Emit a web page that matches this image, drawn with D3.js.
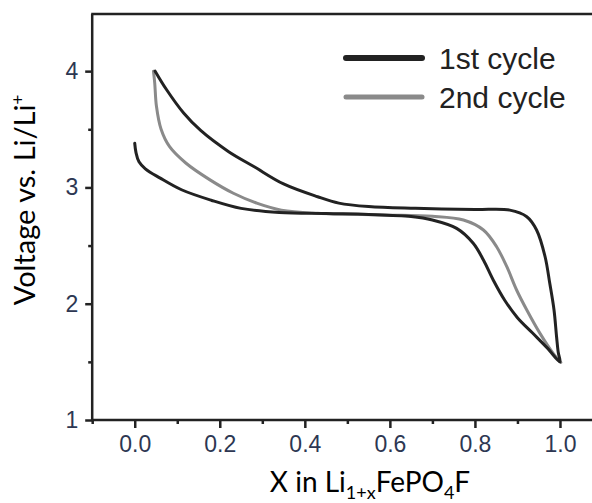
<!DOCTYPE html>
<html><head><meta charset="utf-8">
<script src="https://cdn.jsdelivr.net/npm/d3@7"></script>
<style>body{margin:0;background:#fff}svg{display:block}</style>
</head><body>
<svg id="c" width="592" height="503"></svg>
<script>
// ---- data ----
const xMajorTicks = [0.0, 0.2, 0.4, 0.6, 0.8, 1.0];
const xMinorTicks = [-0.1, 0.1, 0.3, 0.5, 0.7, 0.9, 1.1];
const yMajorTicks = [1, 2, 3, 4];
const yMinorTicks = [1.5, 2.5, 3.5];
const seriesNames = ["1st cycle", "2nd cycle"];
// 1st cycle: discharge 0 -> 1, then charge back to ~0.05
const cycle1 = [
  [0.000,3.38],[0.003,3.30],[0.010,3.22],[0.025,3.16],[0.06,3.08],[0.11,2.98],
  [0.18,2.89],[0.25,2.82],[0.34,2.785],[0.45,2.775],[0.55,2.768],[0.65,2.75],
  [0.70,2.72],[0.757,2.648],[0.796,2.52],[0.82,2.376],[0.843,2.204],[0.87,2.03],
  [0.90,1.88],[0.935,1.75],[0.97,1.62],[1.00,1.50],
  [0.996,1.58],[0.992,1.716],[0.986,1.946],[0.976,2.175],[0.965,2.404],[0.945,2.634],
  [0.922,2.748],[0.882,2.805],[0.80,2.81],[0.66,2.82],[0.55,2.835],[0.48,2.865],
  [0.43,2.92],[0.35,3.03],[0.28,3.18],[0.22,3.31],[0.155,3.49],[0.115,3.64],
  [0.075,3.84],[0.048,4.00]
];
const cycle2 = [
  [0.044,4.00],[0.047,3.90],[0.051,3.70],[0.062,3.50],[0.082,3.35],[0.12,3.21],
  [0.177,3.065],[0.232,2.95],[0.287,2.865],[0.345,2.805],[0.43,2.777],[0.585,2.763],
  [0.70,2.752],[0.773,2.72],[0.82,2.634],[0.851,2.49],[0.875,2.318],[0.898,2.118],
  [0.922,1.946],[0.953,1.745],[0.984,1.573],[1.002,1.495]
];

// ---- layout ----
const svg = d3.select("#c");
const x = d3.scaleLinear().domain([-0.1, 1.1]).range([92.2, 602.5]);
const y = d3.scaleLinear().domain([1, 4.5]).range([420, 13]);
const axisColor = "#222";
const tickTextColor = "#2d3752";

function styleAxis(g){
  g.selectAll("path.domain").remove();
  g.selectAll("line").attr("stroke", axisColor).attr("stroke-width", 2.5);
  g.selectAll("text").attr("fill", tickTextColor)
   .style("font-family", "'Liberation Sans', Arial, sans-serif").style("font-size", "23px");
}

// bottom axis
const gx = svg.append("g").attr("transform", `translate(0,${y(1)})`);
gx.append("g").call(d3.axisBottom(x).tickValues(xMinorTicks).tickSize(4).tickFormat("")).call(styleAxis);
gx.append("g").call(d3.axisBottom(x).tickValues(xMajorTicks).tickSize(8).tickPadding(8).tickFormat(d3.format(".1f"))).call(styleAxis);
gx.append("line").attr("x1", x(-0.1)).attr("x2", x(1.1)).attr("y1", 0).attr("y2", 0)
  .attr("stroke", axisColor).attr("stroke-width", 2.5);

// left axis
const gy = svg.append("g").attr("transform", `translate(${x(-0.1)},0)`);
gy.append("g").call(d3.axisLeft(y).tickValues(yMinorTicks).tickSize(4).tickFormat("")).call(styleAxis);
gy.append("g").call(d3.axisLeft(y).tickValues(yMajorTicks).tickSize(7).tickPadding(7).tickFormat(d3.format("d"))).call(styleAxis);
gy.append("line").attr("x1", 0).attr("x2", 0).attr("y1", y(1) + 1).attr("y2", y(4.5) + 1)
  .attr("stroke", axisColor).attr("stroke-width", 2.5);

// top frame line
svg.append("line").attr("x1", x(-0.1) - 1).attr("x2", x(1.1)).attr("y1", y(4.5) + 1).attr("y2", y(4.5) + 1)
  .attr("stroke", axisColor).attr("stroke-width", 2.5);

// curves
const line = d3.line().x(d => x(d[0])).y(d => y(d[1])).curve(d3.curveCatmullRom.alpha(0.5));
svg.append("path").datum(cycle2).attr("d", line).attr("fill", "none")
  .attr("stroke", "#8a8a8a").attr("stroke-width", 3).attr("stroke-linejoin", "round").attr("stroke-linecap", "round");
svg.append("path").datum(cycle1).attr("d", line).attr("fill", "none")
  .attr("stroke", "#222").attr("stroke-width", 3).attr("stroke-linejoin", "round").attr("stroke-linecap", "round");

// legend
const legend = [
  {name: seriesNames[0], color: "#222", w: 6, ly: 58},
  {name: seriesNames[1], color: "#8a8a8a", w: 5, ly: 97}
];
legend.forEach(l => {
  svg.append("line").attr("x1", 346).attr("x2", 422).attr("y1", l.ly).attr("y2", l.ly)
    .attr("stroke", l.color).attr("stroke-width", l.w).attr("stroke-linecap", "round");
  svg.append("text").attr("x", 439).attr("y", l.ly + 10.5).text(l.name)
    .attr("fill", "#222").style("font-family", "'Liberation Sans', Arial, sans-serif").style("font-size", "30px");
});

// axis titles
const titleFont = "Lato, 'Open Sans', sans-serif";
const yt = svg.append("text").attr("transform", "translate(35,200) rotate(-90)")
  .attr("text-anchor", "middle").attr("fill", "#000")
  .style("font-family", titleFont).style("font-size", "29px");
yt.append("tspan").text("Voltage vs. Li/Li");
yt.append("tspan").attr("dy", -11).style("font-size", "17px").text("+");

const xt = svg.append("text").attr("x", 370).attr("y", 492).attr("text-anchor", "middle")
  .attr("fill", "#000").style("font-family", titleFont).style("font-size", "28px");
xt.append("tspan").text("X in Li");
xt.append("tspan").attr("dy", 7).style("font-size", "18px").text("1+x");
xt.append("tspan").attr("dy", -7).text("FePO");
xt.append("tspan").attr("dy", 7).style("font-size", "18px").text("4");
xt.append("tspan").attr("dy", -7).text("F");
</script>
</body></html>
